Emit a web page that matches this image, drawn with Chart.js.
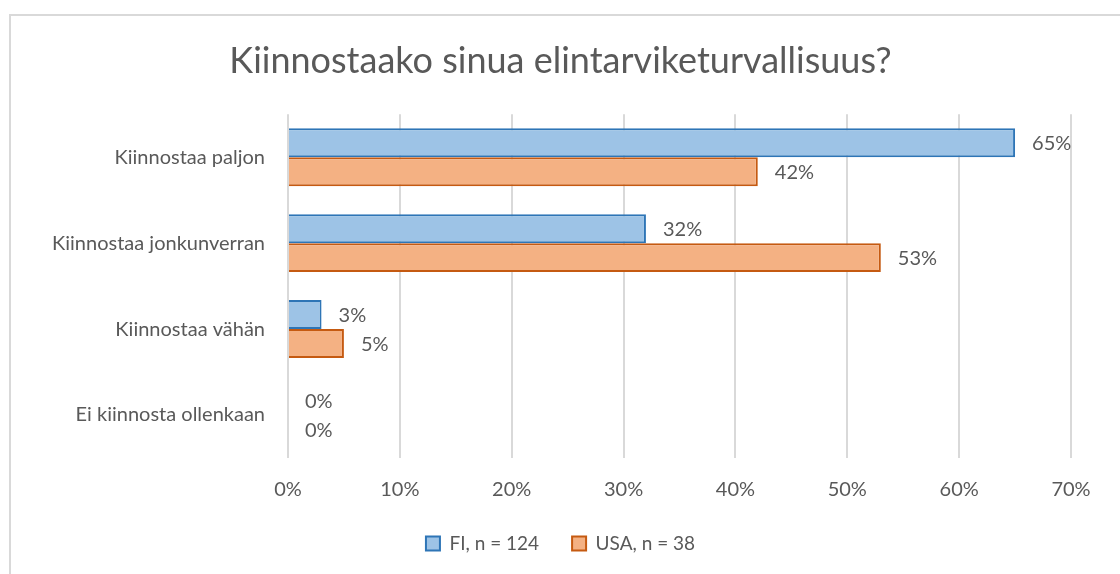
<!DOCTYPE html>
<html>
<head>
<meta charset="utf-8">
<script src="https://cdn.jsdelivr.net/npm/chart.js@4/dist/chart.umd.min.js"></script>
<style>
  body { margin: 0; background: #fff; overflow: hidden; }
  #wrap { position: relative; width: 1120px; height: 574px; }
  #frame {
    position: absolute; left: 9px; top: 14px; width: 1200px; height: 700px;
    border: 2px solid #d9d9d9; box-sizing: border-box;
  }
  canvas { position: absolute; left: 0; top: 0; }
</style>
</head>
<body>
<div id="wrap">
  <div id="frame"></div>
  <canvas id="chart" width="1120" height="574"></canvas>
</div>
<script>
const categories = [
  "Kiinnostaa paljon",
  "Kiinnostaa jonkunverran",
  "Kiinnostaa vähän",
  "Ei kiinnosta ollenkaan",
];
const fiValues = [65, 32, 3, 0];
const usaValues = [42, 53, 5, 0];
const xTicks = [0, 10, 20, 30, 40, 50, 60, 70];

const textColor = "#595959";
const fontFamily = "Lato, 'Liberation Sans', sans-serif";

// value labels at the bar ends
const valueLabels = {
  id: "valueLabels",
  afterDatasetsDraw(chart) {
    const ctx = chart.ctx;
    ctx.save();
    ctx.font = "20px " + fontFamily;
    ctx.fillStyle = textColor;
    ctx.textAlign = "left";
    ctx.textBaseline = "middle";
    chart.data.datasets.forEach((ds, i) => {
      chart.getDatasetMeta(i).data.forEach((bar, j) => {
        ctx.fillText(ds.data[j] + "%", bar.x + 17, bar.y + 1);
      });
    });
    ctx.restore();
  },
};

const chart = document.querySelector("#chart").getContext("2d");

new Chart(chart, {
  type: "bar",
  data: {
    labels: categories,
    datasets: [
      {
        label: "FI, n = 124",
        data: fiValues,
        backgroundColor: "#9dc3e6",
        borderColor: "#2e75b6",
        borderWidth: 2,
        categoryPercentage: 0.674,
        barPercentage: 1,
      },
      {
        label: "USA, n = 38",
        data: usaValues,
        backgroundColor: "#f4b183",
        borderColor: "#c55a11",
        borderWidth: 2,
        categoryPercentage: 0.674,
        barPercentage: 1,
      },
    ],
  },
  options: {
    indexAxis: "y",
    responsive: false,
    animation: false,
    layout: { padding: { top: 18, right: 49, bottom: 11, left: 50 } },
    plugins: {
      title: {
        display: true,
        text: "Kiinnostaako sinua elintarviketurvallisuus?",
        color: textColor,
        font: { family: fontFamily, size: 36, weight: "normal" },
        padding: { top: 22, bottom: 31 },
      },
      legend: {
        position: "bottom",
        labels: {
          color: textColor,
          font: { family: fontFamily, size: 19 },
          boxWidth: 14,
          boxHeight: 14,
          padding: 33,
        },
      },
      tooltip: { enabled: false },
    },
    scales: {
      x: {
        min: 0,
        max: 70,
        afterBuildTicks: (scale) => {
          scale.ticks = xTicks.map((v) => ({ value: v }));
        },
        afterFit: (scale) => {
          scale.height = 43;
        },
        ticks: {
          color: textColor,
          font: { family: fontFamily, size: 20 },
          padding: 20,
          callback: (v) => v + "%",
        },
        grid: { color: "#d9d9d9", lineWidth: 2, drawTicks: false },
        border: { display: false },
      },
      y: {
        afterFit: (scale) => {
          scale.width = 238;
        },
        ticks: {
          color: textColor,
          font: { family: fontFamily, size: 20 },
          padding: 15,
        },
        grid: { display: false },
        border: { display: false },
      },
    },
  },
  plugins: [valueLabels],
});
</script>
</body>
</html>
